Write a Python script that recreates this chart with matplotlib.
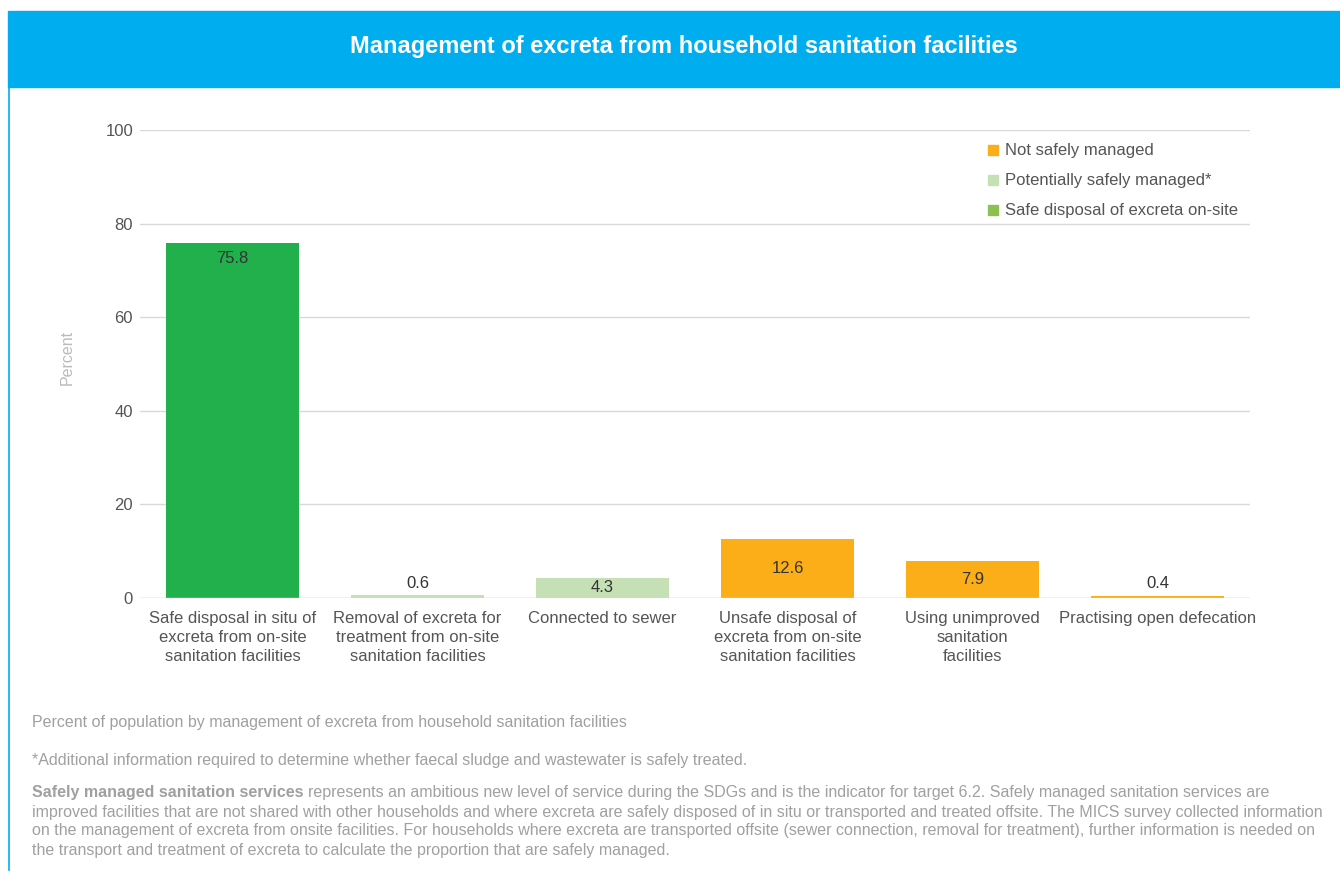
import matplotlib.pyplot as plt
from matplotlib.patches import Rectangle
from matplotlib.lines import Line2D

plt.rcParams['font.family'] = ['Liberation Sans', 'DejaVu Sans']

# data
categories = [
    "Safe disposal in situ of\nexcreta from on-site\nsanitation facilities",
    "Removal of excreta for\ntreatment from on-site\nsanitation facilities",
    "Connected to sewer",
    "Unsafe disposal of\nexcreta from on-site\nsanitation facilities",
    "Using unimproved\nsanitation\nfacilities",
    "Practising open defecation",
]
values = [75.8, 0.6, 4.3, 12.6, 7.9, 0.4]
groups = ["safe", "potential", "potential", "not", "not", "not"]
yticks = [0, 20, 40, 60, 80, 100]

bar_colors = {"safe": "#21B04B", "potential": "#C5E0B4", "not": "#FBAE17"}
legend_items = [("Not safely managed", "#FBAE17"),
                ("Potentially safely managed*", "#C5E0B4"),
                ("Safe disposal of excreta on-site", "#8CC152")]

W, H = 1340, 874
fig = plt.figure(figsize=(W / 100, H / 100), dpi=100)

def fx(px):
    return px / W

def fy(py):
    return 1 - py / H

# header band and left border
fig.patches.append(Rectangle((fx(8), fy(87)), fx(W - 8), (87 - 11) / H,
                             transform=fig.transFigure, color="#00AEEF", zorder=0))
fig.lines.append(Line2D([fx(8.5), fx(8.5)], [fy(87), fy(870)], transform=fig.transFigure,
                        color="#00AEEF", lw=1.2))
fig.text(fx(684), fy(47), "Management of excreta from household sanitation facilities",
         color="white", fontsize=17, fontweight="bold", ha="center", va="center")

ax = fig.add_axes([fx(140), fy(598), fx(1250 - 140), (598 - 130) / H])
x = list(range(len(values)))
ax.bar(x, values, width=0.72, color=[bar_colors[g] for g in groups], zorder=2)
ax.axhline(0, color="#D9D9D9", lw=1, zorder=3)
ax.set_xlim(-0.5, len(values) - 0.5)
ax.set_ylim(0, 100)
ax.set_yticks(yticks)
ax.set_xticks(x)
ax.set_xticklabels(categories, fontsize=12, color="#555555", linespacing=1.32)
ax.tick_params(axis="x", length=0, pad=9.5)
ax.tick_params(axis="y", length=0, pad=5, labelsize=12, labelcolor="#555555")
ax.grid(axis="y", color="#D9D9D9", lw=1, zorder=0)
for s in ax.spines.values():
    s.set_visible(False)
ax.set_ylabel("Percent", color="#BBBBBB", fontsize=11.5)
ax.yaxis.set_label_coords(-0.059, 0.515)

for xi, v in zip(x, values):
    if v > 20:
        ly = v - 3.2
    elif v >= 2:
        ly = v / 2
    else:
        ly = v + 2.6
    ax.text(xi, ly, f"{v}", ha="center", va="center", fontsize=12, color="#333333", zorder=4)

# legend
for i, (lab, col) in enumerate(legend_items):
    yy = 150 + 30 * i
    fig.patches.append(Rectangle((fx(988), fy(yy + 5)), fx(10), 10 / H,
                                 transform=fig.transFigure, color=col))
    fig.text(fx(1005), fy(yy), lab, fontsize=12, color="#555555", va="center")

# notes
note_col = "#A0A0A0"
fs = 11.5
fig.text(fx(32), fy(722), "Percent of population by management of excreta from household sanitation facilities",
         fontsize=fs, color=note_col, va="center")
fig.text(fx(32), fy(761), "*Additional information required to determine whether faecal sludge and wastewater is safely treated.",
         fontsize=fs, color=note_col, va="center")

bold = fig.text(fx(32), fy(793), "Safely managed sanitation services", fontsize=fs,
                color=note_col, fontweight="bold", va="center")
fig.canvas.draw()
bb = bold.get_window_extent()
fig.text(bb.x1 / W + fx(4), fy(793),
         "represents an ambitious new level of service during the SDGs and is the indicator for target 6.2. Safely managed sanitation services are",
         fontsize=fs, color=note_col, va="center")
rest = [
    "improved facilities that are not shared with other households and where excreta are safely disposed of in situ or transported and treated offsite. The MICS survey collected information",
    "on the management of excreta from onsite facilities. For households where excreta are transported offsite (sewer connection, removal for treatment), further information is needed on",
    "the transport and treatment of excreta to calculate the proportion that are safely managed.",
]
for i, line in enumerate(rest):
    fig.text(fx(32), fy(812 + 19 * i), line, fontsize=fs, color=note_col, va="center")

fig.savefig("out.png", dpi=100)
